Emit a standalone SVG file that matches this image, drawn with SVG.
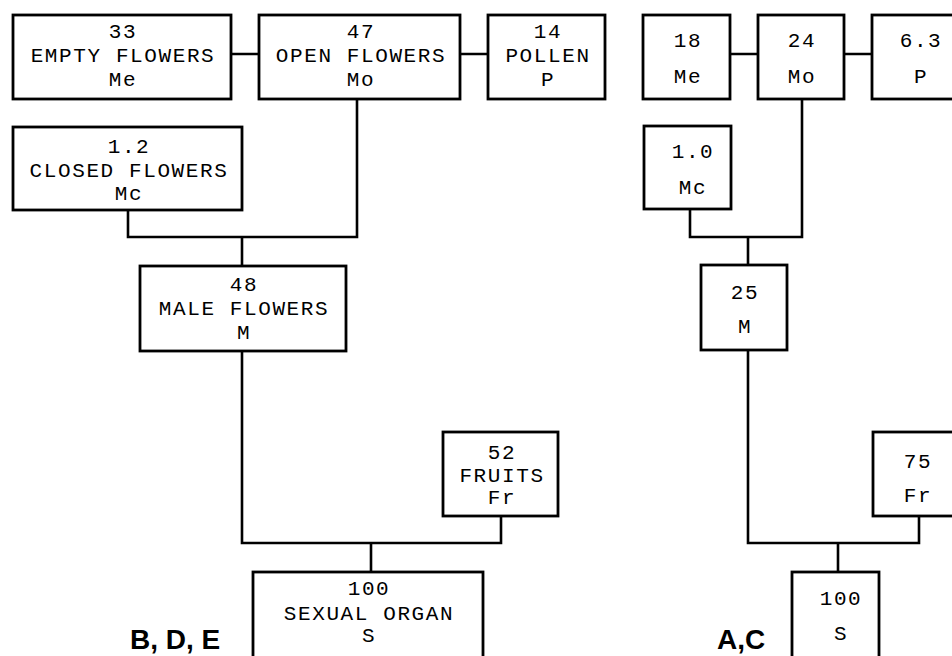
<svg xmlns="http://www.w3.org/2000/svg" width="952" height="656" viewBox="0 0 952 656">
<style>
.box{fill:#fff;stroke:#000;stroke-width:2.8}
.ln{fill:none;stroke:#000;stroke-width:2.6}
.t{font-family:"Liberation Mono","Courier New",monospace;font-size:21px;letter-spacing:1.6px;text-anchor:middle;fill:#000}
.lbl{font-family:"Liberation Sans",Arial,sans-serif;font-size:28px;font-weight:bold;fill:#000}
</style>
<rect width="952" height="656" fill="#fff"/>
<g id="connectors">
<path class="ln" d="M231 54H259M460 54H488"/>
<path class="ln" d="M357 99V237H128V210M242 237V266"/>
<path class="ln" d="M242 351V543H501V516M371 543V572"/>
<path class="ln" d="M730 54H758M844 54H872"/>
<path class="ln" d="M802 99V237H690V209M748 237V265"/>
<path class="ln" d="M748 350V543H919V516M838 543V572"/>
</g>
<g id="l-me"><rect class="box" x="13" y="15" width="218" height="84"/>
<text class="t" x="123" y="38">33</text><text class="t" x="123" y="62">EMPTY FLOWERS</text><text class="t" x="123" y="86">Me</text></g>
<g id="l-mo"><rect class="box" x="259" y="15" width="201" height="84"/>
<text class="t" x="361" y="38">47</text><text class="t" x="361" y="62">OPEN FLOWERS</text><text class="t" x="361" y="86">Mo</text></g>
<g id="l-p"><rect class="box" x="488" y="15" width="117" height="84"/>
<text class="t" x="548" y="38">14</text><text class="t" x="548" y="62">POLLEN</text><text class="t" x="548" y="86">P</text></g>
<g id="l-mc"><rect class="box" x="13" y="127" width="229" height="83"/>
<text class="t" x="129" y="153">1.2</text><text class="t" x="129" y="177">CLOSED FLOWERS</text><text class="t" x="129" y="200">Mc</text></g>
<g id="l-m"><rect class="box" x="140" y="266" width="206" height="85"/>
<text class="t" x="244" y="291">48</text><text class="t" x="244" y="315">MALE FLOWERS</text><text class="t" x="244" y="339">M</text></g>
<g id="l-fr"><rect class="box" x="443" y="432" width="115" height="84"/>
<text class="t" x="502" y="459">52</text><text class="t" x="502" y="482">FRUITS</text><text class="t" x="502" y="504">Fr</text></g>
<g id="l-s"><rect class="box" x="253" y="572" width="230" height="100"/>
<text class="t" x="369" y="595">100</text><text class="t" x="369" y="620">SEXUAL ORGAN</text><text class="t" x="369" y="642">S</text></g>
<text class="lbl" x="130" y="649">B, D, E</text>
<g id="r-me"><rect class="box" x="643" y="15" width="87" height="84"/>
<text class="t" x="688" y="47">18</text><text class="t" x="688" y="83">Me</text></g>
<g id="r-mo"><rect class="box" x="758" y="15" width="86" height="84"/>
<text class="t" x="802" y="47">24</text><text class="t" x="802" y="83">Mo</text></g>
<g id="r-p"><rect class="box" x="872" y="15" width="96" height="84"/>
<text class="t" x="921" y="47">6.3</text><text class="t" x="921" y="83">P</text></g>
<g id="r-mc"><rect class="box" x="644" y="126" width="87" height="83"/>
<text class="t" x="693" y="158">1.0</text><text class="t" x="693" y="194">Mc</text></g>
<g id="r-m"><rect class="box" x="701" y="265" width="86" height="85"/>
<text class="t" x="745" y="299">25</text><text class="t" x="745" y="333">M</text></g>
<g id="r-fr"><rect class="box" x="873" y="432" width="90" height="84"/>
<text class="t" x="918" y="468">75</text><text class="t" x="918" y="502">Fr</text></g>
<g id="r-s"><rect class="box" x="792" y="572" width="87" height="100"/>
<text class="t" x="841" y="605">100</text><text class="t" x="841" y="640">S</text></g>
<text class="lbl" x="717" y="649">A,C</text>
</svg>
